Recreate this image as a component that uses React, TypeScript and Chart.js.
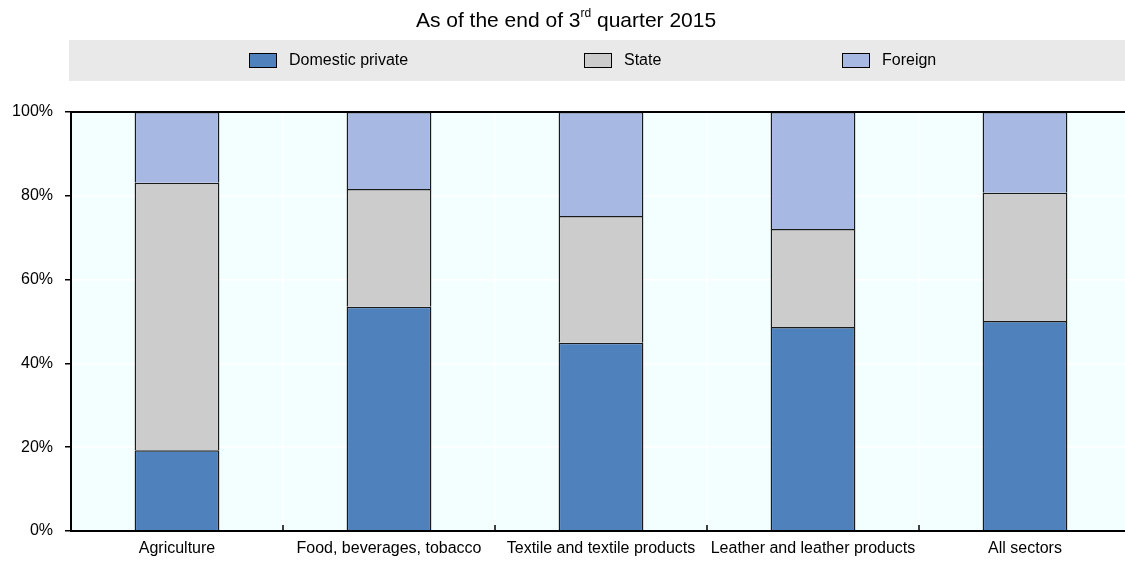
import React, { useEffect, useRef } from "react";
import { Chart, registerables } from "chart.js";

Chart.register(...registerables);

const categories = [
  "Agriculture",
  "Food, beverages, tobacco",
  "Textile and textile products",
  "Leather and leather products",
  "All sectors",
];
const domesticPrivate = [19.3, 53.5, 44.9, 48.7, 50.1];
const stateShare = [63.8, 28.1, 30.3, 23.4, 30.6];
const foreignShare = [16.9, 18.4, 24.8, 27.9, 19.3];
const yTicks = [0, 20, 40, 60, 80, 100];

const FONT = "'Liberation Sans', Arial, sans-serif";

const decorPlugin = {
  id: "decor",
  beforeDraw(chart: any) {
    const { ctx, chartArea } = chart;
    ctx.save();
    ctx.fillStyle = "#F3FEFF";
    ctx.fillRect(chartArea.left, chartArea.top, chartArea.right - chartArea.left, chartArea.bottom - chartArea.top);
    // legend band
    ctx.fillStyle = "#E9E9E9";
    ctx.fillRect(69, 40, chart.width - 69, 41);
    // title
    ctx.fillStyle = "#000";
    ctx.textBaseline = "alphabetic";
    const p1 = "As of the end of 3";
    const sup = "rd";
    const p2 = " quarter 2015";
    ctx.font = `21px ${FONT}`;
    const w1 = ctx.measureText(p1).width;
    const w3 = ctx.measureText(p2).width;
    ctx.font = `12px ${FONT}`;
    const w2 = ctx.measureText(sup).width;
    const total = w1 + w2 + w3;
    let x = 566 - total / 2;
    const base = 27;
    ctx.font = `21px ${FONT}`;
    ctx.textAlign = "left";
    ctx.fillText(p1, x, base);
    x += w1;
    ctx.font = `12px ${FONT}`;
    ctx.fillText(sup, x, base - 10);
    x += w2;
    ctx.font = `21px ${FONT}`;
    ctx.fillText(p2, x, base);
    // legend items
    const boxX = [249, 584, 842];
    chart.data.datasets.forEach((ds: any, i: number) => {
      ctx.fillStyle = ds.backgroundColor;
      ctx.fillRect(boxX[i], 53, 28, 15);
      ctx.strokeStyle = "#000";
      ctx.lineWidth = 1;
      ctx.strokeRect(boxX[i] + 0.5, 53.5, 27, 14);
      ctx.fillStyle = "#000";
      ctx.font = `16px ${FONT}`;
      ctx.textBaseline = "middle";
      ctx.fillText(ds.label, boxX[i] + 40, 61);
    });
    ctx.restore();
  },
  afterDraw(chart: any) {
    const { ctx, chartArea } = chart;
    const xs = chart.scales.x;
    ctx.save();
    ctx.strokeStyle = "#000";
    ctx.lineWidth = 2;
    ctx.beginPath();
    ctx.moveTo(chartArea.right, chartArea.top);
    ctx.lineTo(chartArea.left, chartArea.top);
    ctx.lineTo(chartArea.left, chartArea.bottom);
    ctx.lineTo(chartArea.right, chartArea.bottom);
    ctx.stroke();
    // inner x ticks at category boundaries
    ctx.lineWidth = 1.5;
    for (let i = 1; i < categories.length; i++) {
      const bx = (xs.getPixelForValue(i - 1) + xs.getPixelForValue(i)) / 2;
      ctx.beginPath();
      ctx.moveTo(bx, chartArea.bottom);
      ctx.lineTo(bx, chartArea.bottom - 6);
      ctx.stroke();
    }
    ctx.restore();
  },
};

export default function App() {
  const ref = useRef<HTMLCanvasElement | null>(null);
  useEffect(() => {
    if (!ref.current) return;
    const mk = (label: string, data: number[], color: string) => ({
      label,
      data,
      backgroundColor: color,
      borderColor: "#1a1a1a",
      borderWidth: 1.5,
      barPercentage: 0.4,
      categoryPercentage: 1,
    });
    const chart = new Chart(ref.current, {
      type: "bar",
      data: {
        labels: categories,
        datasets: [
          mk("Domestic private", domesticPrivate, "#4F81BD"),
          mk("State", stateShare, "#CCCCCC"),
          mk("Foreign", foreignShare, "#A7B9E3"),
        ],
      },
      plugins: [decorPlugin],
      options: {
        animation: false,
        responsive: false,
        maintainAspectRatio: false,
        layout: { padding: { top: 112, right: 0, left: 0, bottom: 0 } },
        plugins: {
          legend: { display: false },
          title: { display: false },
          tooltip: { enabled: false },
        },
        scales: {
          x: {
            stacked: true,
            offset: true,
            grid: { offset: true, color: "#FFFFFF", lineWidth: 1.5, drawTicks: false },
            border: { display: false },
            ticks: { color: "#000", font: { family: FONT, size: 16 }, padding: 8, maxRotation: 0, autoSkip: false },
            afterFit: (s: any) => { s.height = 30; },
          },
          y: {
            stacked: true,
            min: 0,
            max: 100,
            afterBuildTicks: (s: any) => { s.ticks = yTicks.map((v) => ({ value: v })); },
            grid: { color: "#FFFFFF", lineWidth: 1.5, tickColor: "#000", tickLength: 6, tickWidth: 1.5 },
            border: { display: false },
            ticks: {
              color: "#000",
              font: { family: FONT, size: 16 },
              padding: 12,
              callback: (v: any) => `${v}%`,
            },
            afterFit: (s: any) => { s.width = 71; },
          },
        },
      },
    });
    return () => chart.destroy();
  }, []);
  return (
    <div style={{ position: "absolute", left: 0, top: 0, width: 1125, height: 561, overflow: "hidden", background: "#fff" }}>
      <canvas ref={ref} width={1131} height={561} style={{ display: "block", width: 1131, height: 561 }} />
    </div>
  );
}
